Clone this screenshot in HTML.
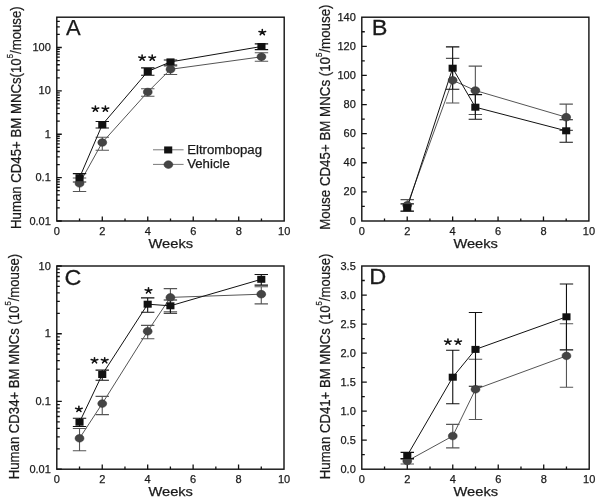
<!DOCTYPE html><html><head><meta charset="utf-8"><style>html,body{margin:0;padding:0;background:#fff;}svg{display:block;}#w{width:602px;height:503px;will-change:transform;}text{font-family:"Liberation Sans",sans-serif;stroke:#1a1a1a;stroke-width:0.25px;}</style></head><body><div id="w"><svg width="602" height="503" viewBox="0 0 602 503" font-family="Liberation Sans, sans-serif">
<rect width="602" height="503" fill="#fff"/>
<rect x="56.80" y="17.20" width="227.40" height="203.80" fill="none" stroke="#111" stroke-width="1.4"/>
<path d="M79.54 221.00v-2.6 M102.28 221.00v-4.6 M125.02 221.00v-2.6 M147.76 221.00v-4.6 M170.50 221.00v-2.6 M193.24 221.00v-4.6 M215.98 221.00v-2.6 M238.72 221.00v-4.6 M261.46 221.00v-2.6 M56.80 221.00h5.0 M56.80 207.94h3.0 M56.80 200.30h3.0 M56.80 194.88h3.0 M56.80 190.68h3.0 M56.80 187.24h3.0 M56.80 184.34h3.0 M56.80 181.83h3.0 M56.80 179.61h3.0 M56.80 177.62h5.0 M56.80 164.56h3.0 M56.80 156.92h3.0 M56.80 151.50h3.0 M56.80 147.30h3.0 M56.80 143.87h3.0 M56.80 140.96h3.0 M56.80 138.45h3.0 M56.80 136.23h3.0 M56.80 134.24h5.0 M56.80 121.18h3.0 M56.80 113.55h3.0 M56.80 108.13h3.0 M56.80 103.92h3.0 M56.80 100.49h3.0 M56.80 97.58h3.0 M56.80 95.07h3.0 M56.80 92.85h3.0 M56.80 90.86h5.0 M56.80 77.81h3.0 M56.80 70.17h3.0 M56.80 64.75h3.0 M56.80 60.54h3.0 M56.80 57.11h3.0 M56.80 54.20h3.0 M56.80 51.69h3.0 M56.80 49.47h3.0 M56.80 47.49h5.0 M56.80 34.43h3.0 M56.80 26.79h3.0 M56.80 21.37h3.0" stroke="#111" stroke-width="1.3" fill="none"/>
<text x="56.80" y="234.80" font-size="11" text-anchor="middle" fill="#1a1a1a" >0</text>
<text x="102.28" y="234.80" font-size="11" text-anchor="middle" fill="#1a1a1a" >2</text>
<text x="147.76" y="234.80" font-size="11" text-anchor="middle" fill="#1a1a1a" >4</text>
<text x="193.24" y="234.80" font-size="11" text-anchor="middle" fill="#1a1a1a" >6</text>
<text x="238.72" y="234.80" font-size="11" text-anchor="middle" fill="#1a1a1a" >8</text>
<text x="284.20" y="234.80" font-size="11" text-anchor="middle" fill="#1a1a1a" >10</text>
<text x="50.80" y="224.50" font-size="11" text-anchor="end" fill="#1a1a1a" >0.01</text>
<text x="50.80" y="181.12" font-size="11" text-anchor="end" fill="#1a1a1a" >0.1</text>
<text x="50.80" y="137.74" font-size="11" text-anchor="end" fill="#1a1a1a" >1</text>
<text x="50.80" y="94.36" font-size="11" text-anchor="end" fill="#1a1a1a" >10</text>
<text x="50.80" y="50.99" font-size="11" text-anchor="end" fill="#1a1a1a" >100</text>
<polyline points="79.54,183.40 102.28,142.50 147.76,92.00 170.50,69.30 261.46,56.80" fill="none" stroke="#555" stroke-width="1.0"/>
<path d="M79.54 178.00V191.50M72.84 178.00h13.4M72.84 191.50h13.4" stroke="#555" stroke-width="1.1" fill="none"/>
<path d="M102.28 137.30V150.20M95.58 137.30h13.4M95.58 150.20h13.4" stroke="#555" stroke-width="1.1" fill="none"/>
<path d="M147.76 88.80V96.30M141.06 88.80h13.4M141.06 96.30h13.4" stroke="#555" stroke-width="1.1" fill="none"/>
<path d="M170.50 66.00V74.50M163.80 66.00h13.4M163.80 74.50h13.4" stroke="#555" stroke-width="1.1" fill="none"/>
<path d="M261.46 52.80V61.20M254.76 52.80h13.4M254.76 61.20h13.4" stroke="#555" stroke-width="1.1" fill="none"/>
<polyline points="79.54,177.70 102.28,124.70 147.76,71.50 170.50,61.90 261.46,46.50" fill="none" stroke="#111" stroke-width="1.0"/>
<path d="M79.54 173.60V182.00M72.84 173.60h13.4M72.84 182.00h13.4" stroke="#111" stroke-width="1.1" fill="none"/>
<path d="M102.28 121.50V128.00M95.58 121.50h13.4M95.58 128.00h13.4" stroke="#111" stroke-width="1.1" fill="none"/>
<path d="M147.76 67.90V75.30M141.06 67.90h13.4M141.06 75.30h13.4" stroke="#111" stroke-width="1.1" fill="none"/>
<path d="M170.50 60.00V65.00M163.80 60.00h13.4M163.80 65.00h13.4" stroke="#111" stroke-width="1.1" fill="none"/>
<path d="M261.46 43.90V49.60M254.76 43.90h13.4M254.76 49.60h13.4" stroke="#111" stroke-width="1.1" fill="none"/>
<ellipse cx="79.54" cy="183.40" rx="4.45" ry="3.85" fill="#444" stroke="#2a2a2a" stroke-width="0.5"/>
<ellipse cx="102.28" cy="142.50" rx="4.45" ry="3.85" fill="#444" stroke="#2a2a2a" stroke-width="0.5"/>
<ellipse cx="147.76" cy="92.00" rx="4.45" ry="3.85" fill="#444" stroke="#2a2a2a" stroke-width="0.5"/>
<ellipse cx="170.50" cy="69.30" rx="4.45" ry="3.85" fill="#444" stroke="#2a2a2a" stroke-width="0.5"/>
<ellipse cx="261.46" cy="56.80" rx="4.45" ry="3.85" fill="#444" stroke="#2a2a2a" stroke-width="0.5"/>
<rect x="75.49" y="174.20" width="8.1" height="7.0" fill="#111"/>
<rect x="98.23" y="121.20" width="8.1" height="7.0" fill="#111"/>
<rect x="143.71" y="68.00" width="8.1" height="7.0" fill="#111"/>
<rect x="166.45" y="58.40" width="8.1" height="7.0" fill="#111"/>
<rect x="257.41" y="43.00" width="8.1" height="7.0" fill="#111"/>
<text x="170.80" y="248.00" font-size="13" text-anchor="middle" fill="#1a1a1a" textLength="44.5" lengthAdjust="spacingAndGlyphs">Weeks</text>
<text transform="translate(21.00,117.65) rotate(-90)" x="0" y="0" font-size="15.3" text-anchor="middle" fill="#1a1a1a" textLength="222.7" lengthAdjust="spacingAndGlyphs">Human CD45+ BM MNCs(10<tspan font-size="9" dy="-8">5</tspan><tspan dy="8">/mouse)</tspan></text>
<text transform="translate(66.00,35.10) scale(1.0,1)" font-size="22" fill="#1a1a1a">A</text>
<path d="M95.40 108.90L95.40 106.05M95.40 108.90L98.73 108.02M95.40 108.90L97.46 111.21M95.40 108.90L93.34 111.21M95.40 108.90L92.07 108.02" stroke="#111" stroke-width="1.55" stroke-linecap="round" fill="none"/>
<path d="M105.40 108.90L105.40 106.05M105.40 108.90L108.73 108.02M105.40 108.90L107.46 111.21M105.40 108.90L103.34 111.21M105.40 108.90L102.07 108.02" stroke="#111" stroke-width="1.55" stroke-linecap="round" fill="none"/>
<path d="M142.10 57.90L142.10 55.05M142.10 57.90L145.43 57.02M142.10 57.90L144.16 60.21M142.10 57.90L140.04 60.21M142.10 57.90L138.77 57.02" stroke="#111" stroke-width="1.55" stroke-linecap="round" fill="none"/>
<path d="M152.20 57.90L152.20 55.05M152.20 57.90L155.53 57.02M152.20 57.90L154.26 60.21M152.20 57.90L150.14 60.21M152.20 57.90L148.87 57.02" stroke="#111" stroke-width="1.55" stroke-linecap="round" fill="none"/>
<path d="M262.30 32.30L262.30 29.45M262.30 32.30L265.63 31.42M262.30 32.30L264.36 34.61M262.30 32.30L260.24 34.61M262.30 32.30L258.97 31.42" stroke="#111" stroke-width="1.55" stroke-linecap="round" fill="none"/>
<rect x="361.80" y="17.20" width="227.10" height="203.80" fill="none" stroke="#111" stroke-width="1.4"/>
<path d="M384.51 221.00v-2.6 M407.22 221.00v-4.6 M429.93 221.00v-2.6 M452.64 221.00v-4.6 M475.35 221.00v-2.6 M498.06 221.00v-4.6 M520.77 221.00v-2.6 M543.48 221.00v-4.6 M566.19 221.00v-2.6 M361.80 206.44h3.0 M361.80 191.89h5.0 M361.80 177.33h3.0 M361.80 162.77h5.0 M361.80 148.21h3.0 M361.80 133.66h5.0 M361.80 119.10h3.0 M361.80 104.54h5.0 M361.80 89.99h3.0 M361.80 75.43h5.0 M361.80 60.87h3.0 M361.80 46.31h5.0 M361.80 31.76h3.0" stroke="#111" stroke-width="1.3" fill="none"/>
<text x="361.80" y="234.80" font-size="11" text-anchor="middle" fill="#1a1a1a" >0</text>
<text x="407.22" y="234.80" font-size="11" text-anchor="middle" fill="#1a1a1a" >2</text>
<text x="452.64" y="234.80" font-size="11" text-anchor="middle" fill="#1a1a1a" >4</text>
<text x="498.06" y="234.80" font-size="11" text-anchor="middle" fill="#1a1a1a" >6</text>
<text x="543.48" y="234.80" font-size="11" text-anchor="middle" fill="#1a1a1a" >8</text>
<text x="588.90" y="234.80" font-size="11" text-anchor="middle" fill="#1a1a1a" >10</text>
<text x="355.80" y="224.50" font-size="11" text-anchor="end" fill="#1a1a1a" >0</text>
<text x="355.80" y="195.39" font-size="11" text-anchor="end" fill="#1a1a1a" >20</text>
<text x="355.80" y="166.27" font-size="11" text-anchor="end" fill="#1a1a1a" >40</text>
<text x="355.80" y="137.16" font-size="11" text-anchor="end" fill="#1a1a1a" >60</text>
<text x="355.80" y="108.04" font-size="11" text-anchor="end" fill="#1a1a1a" >80</text>
<text x="355.80" y="78.93" font-size="11" text-anchor="end" fill="#1a1a1a" >100</text>
<text x="355.80" y="49.81" font-size="11" text-anchor="end" fill="#1a1a1a" >120</text>
<text x="355.80" y="20.70" font-size="11" text-anchor="end" fill="#1a1a1a" >140</text>
<polyline points="407.22,205.30 452.64,80.30 475.35,90.50 566.19,117.20" fill="none" stroke="#555" stroke-width="1.0"/>
<path d="M407.22 199.60V211.00M400.52 199.60h13.4M400.52 211.00h13.4" stroke="#555" stroke-width="1.1" fill="none"/>
<path d="M452.64 58.40V103.00M445.94 58.40h13.4M445.94 103.00h13.4" stroke="#555" stroke-width="1.1" fill="none"/>
<path d="M475.35 66.10V114.50M468.65 66.10h13.4M468.65 114.50h13.4" stroke="#555" stroke-width="1.1" fill="none"/>
<path d="M566.19 104.10V130.40M559.49 104.10h13.4M559.49 130.40h13.4" stroke="#555" stroke-width="1.1" fill="none"/>
<polyline points="407.22,207.60 452.64,68.20 475.35,107.20 566.19,130.80" fill="none" stroke="#111" stroke-width="1.0"/>
<path d="M407.22 203.90V211.30M400.52 203.90h13.4M400.52 211.30h13.4" stroke="#111" stroke-width="1.1" fill="none"/>
<path d="M452.64 46.90V89.20M445.94 46.90h13.4M445.94 89.20h13.4" stroke="#111" stroke-width="1.1" fill="none"/>
<path d="M475.35 94.60V119.30M468.65 94.60h13.4M468.65 119.30h13.4" stroke="#111" stroke-width="1.1" fill="none"/>
<path d="M566.19 119.80V142.30M559.49 119.80h13.4M559.49 142.30h13.4" stroke="#111" stroke-width="1.1" fill="none"/>
<ellipse cx="407.22" cy="205.30" rx="4.45" ry="3.85" fill="#444" stroke="#2a2a2a" stroke-width="0.5"/>
<ellipse cx="452.64" cy="80.30" rx="4.45" ry="3.85" fill="#444" stroke="#2a2a2a" stroke-width="0.5"/>
<ellipse cx="475.35" cy="90.50" rx="4.45" ry="3.85" fill="#444" stroke="#2a2a2a" stroke-width="0.5"/>
<ellipse cx="566.19" cy="117.20" rx="4.45" ry="3.85" fill="#444" stroke="#2a2a2a" stroke-width="0.5"/>
<rect x="403.17" y="204.10" width="8.1" height="7.0" fill="#111"/>
<rect x="448.59" y="64.70" width="8.1" height="7.0" fill="#111"/>
<rect x="471.30" y="103.70" width="8.1" height="7.0" fill="#111"/>
<rect x="562.14" y="127.30" width="8.1" height="7.0" fill="#111"/>
<text x="475.65" y="248.00" font-size="13" text-anchor="middle" fill="#1a1a1a" textLength="44.5" lengthAdjust="spacingAndGlyphs">Weeks</text>
<text transform="translate(330.30,117.15) rotate(-90)" x="0" y="0" font-size="15.3" text-anchor="middle" fill="#1a1a1a" textLength="225.3" lengthAdjust="spacingAndGlyphs">Mouse CD45+ BM MNCs (10<tspan font-size="9" dy="-8">5</tspan><tspan dy="8">/mouse)</tspan></text>
<text transform="translate(371.80,35.20) scale(1.07,1)" font-size="22" fill="#1a1a1a">B</text>
<rect x="56.80" y="266.00" width="227.20" height="203.20" fill="none" stroke="#111" stroke-width="1.4"/>
<path d="M79.52 469.20v-2.6 M102.24 469.20v-4.6 M124.96 469.20v-2.6 M147.68 469.20v-4.6 M170.40 469.20v-2.6 M193.12 469.20v-4.6 M215.84 469.20v-2.6 M238.56 469.20v-4.6 M261.28 469.20v-2.6 M56.80 469.20h5.0 M56.80 448.81h3.0 M56.80 436.88h3.0 M56.80 428.42h3.0 M56.80 421.86h3.0 M56.80 416.49h3.0 M56.80 411.96h3.0 M56.80 408.03h3.0 M56.80 404.57h3.0 M56.80 401.47h5.0 M56.80 381.08h3.0 M56.80 369.15h3.0 M56.80 360.69h3.0 M56.80 354.12h3.0 M56.80 348.76h3.0 M56.80 344.23h3.0 M56.80 340.30h3.0 M56.80 336.83h3.0 M56.80 333.73h5.0 M56.80 313.34h3.0 M56.80 301.42h3.0 M56.80 292.95h3.0 M56.80 286.39h3.0 M56.80 281.03h3.0 M56.80 276.49h3.0 M56.80 272.56h3.0 M56.80 269.10h3.0 M56.80 266.00h5.0" stroke="#111" stroke-width="1.3" fill="none"/>
<text x="56.80" y="483.00" font-size="11" text-anchor="middle" fill="#1a1a1a" >0</text>
<text x="102.24" y="483.00" font-size="11" text-anchor="middle" fill="#1a1a1a" >2</text>
<text x="147.68" y="483.00" font-size="11" text-anchor="middle" fill="#1a1a1a" >4</text>
<text x="193.12" y="483.00" font-size="11" text-anchor="middle" fill="#1a1a1a" >6</text>
<text x="238.56" y="483.00" font-size="11" text-anchor="middle" fill="#1a1a1a" >8</text>
<text x="284.00" y="483.00" font-size="11" text-anchor="middle" fill="#1a1a1a" >10</text>
<text x="50.80" y="472.70" font-size="11" text-anchor="end" fill="#1a1a1a" >0.01</text>
<text x="50.80" y="404.97" font-size="11" text-anchor="end" fill="#1a1a1a" >0.1</text>
<text x="50.80" y="337.23" font-size="11" text-anchor="end" fill="#1a1a1a" >1</text>
<text x="50.80" y="269.50" font-size="11" text-anchor="end" fill="#1a1a1a" >10</text>
<polyline points="79.52,438.30 102.24,403.60 147.68,331.30 170.40,297.40 261.28,294.20" fill="none" stroke="#555" stroke-width="1.0"/>
<path d="M79.52 428.50V450.80M72.82 428.50h13.4M72.82 450.80h13.4" stroke="#555" stroke-width="1.1" fill="none"/>
<path d="M102.24 396.40V414.60M95.54 396.40h13.4M95.54 414.60h13.4" stroke="#555" stroke-width="1.1" fill="none"/>
<path d="M147.68 325.40V338.80M140.98 325.40h13.4M140.98 338.80h13.4" stroke="#555" stroke-width="1.1" fill="none"/>
<path d="M170.40 288.60V311.70M163.70 288.60h13.4M163.70 311.70h13.4" stroke="#555" stroke-width="1.1" fill="none"/>
<path d="M261.28 286.80V303.90M254.58 286.80h13.4M254.58 303.90h13.4" stroke="#555" stroke-width="1.1" fill="none"/>
<polyline points="79.52,422.20 102.24,374.50 147.68,304.20 170.40,305.80 261.28,279.30" fill="none" stroke="#111" stroke-width="1.0"/>
<path d="M79.52 418.30V426.50M72.82 418.30h13.4M72.82 426.50h13.4" stroke="#111" stroke-width="1.1" fill="none"/>
<path d="M102.24 370.10V380.20M95.54 370.10h13.4M95.54 380.20h13.4" stroke="#111" stroke-width="1.1" fill="none"/>
<path d="M147.68 297.90V312.20M140.98 297.90h13.4M140.98 312.20h13.4" stroke="#111" stroke-width="1.1" fill="none"/>
<path d="M170.40 300.00V313.30M163.70 300.00h13.4M163.70 313.30h13.4" stroke="#111" stroke-width="1.1" fill="none"/>
<path d="M261.28 274.50V285.10M254.58 274.50h13.4M254.58 285.10h13.4" stroke="#111" stroke-width="1.1" fill="none"/>
<ellipse cx="79.52" cy="438.30" rx="4.45" ry="3.85" fill="#444" stroke="#2a2a2a" stroke-width="0.5"/>
<ellipse cx="102.24" cy="403.60" rx="4.45" ry="3.85" fill="#444" stroke="#2a2a2a" stroke-width="0.5"/>
<ellipse cx="147.68" cy="331.30" rx="4.45" ry="3.85" fill="#444" stroke="#2a2a2a" stroke-width="0.5"/>
<ellipse cx="170.40" cy="297.40" rx="4.45" ry="3.85" fill="#444" stroke="#2a2a2a" stroke-width="0.5"/>
<ellipse cx="261.28" cy="294.20" rx="4.45" ry="3.85" fill="#444" stroke="#2a2a2a" stroke-width="0.5"/>
<rect x="75.47" y="418.70" width="8.1" height="7.0" fill="#111"/>
<rect x="98.19" y="371.00" width="8.1" height="7.0" fill="#111"/>
<rect x="143.63" y="300.70" width="8.1" height="7.0" fill="#111"/>
<rect x="166.35" y="302.30" width="8.1" height="7.0" fill="#111"/>
<rect x="257.23" y="275.80" width="8.1" height="7.0" fill="#111"/>
<text x="170.70" y="496.20" font-size="13" text-anchor="middle" fill="#1a1a1a" textLength="44.5" lengthAdjust="spacingAndGlyphs">Weeks</text>
<text transform="translate(18.80,366.50) rotate(-90)" x="0" y="0" font-size="15.3" text-anchor="middle" fill="#1a1a1a" textLength="225.4" lengthAdjust="spacingAndGlyphs">Human CD34+ BM MNCs (10<tspan font-size="9" dy="-8">5</tspan><tspan dy="8">/mouse)</tspan></text>
<text transform="translate(64.60,284.60) scale(1.06,1)" font-size="22" fill="#1a1a1a">C</text>
<path d="M78.90 409.20L78.90 406.35M78.90 409.20L82.23 408.32M78.90 409.20L80.96 411.51M78.90 409.20L76.84 411.51M78.90 409.20L75.57 408.32" stroke="#111" stroke-width="1.55" stroke-linecap="round" fill="none"/>
<path d="M94.50 360.50L94.50 357.65M94.50 360.50L97.83 359.62M94.50 360.50L96.56 362.81M94.50 360.50L92.44 362.81M94.50 360.50L91.17 359.62" stroke="#111" stroke-width="1.55" stroke-linecap="round" fill="none"/>
<path d="M104.70 360.50L104.70 357.65M104.70 360.50L108.03 359.62M104.70 360.50L106.76 362.81M104.70 360.50L102.64 362.81M104.70 360.50L101.37 359.62" stroke="#111" stroke-width="1.55" stroke-linecap="round" fill="none"/>
<path d="M148.50 290.60L148.50 287.75M148.50 290.60L151.83 289.72M148.50 290.60L150.56 292.91M148.50 290.60L146.44 292.91M148.50 290.60L145.17 289.72" stroke="#111" stroke-width="1.55" stroke-linecap="round" fill="none"/>
<rect x="361.80" y="266.00" width="227.40" height="203.20" fill="none" stroke="#111" stroke-width="1.4"/>
<path d="M384.54 469.20v-2.6 M407.28 469.20v-4.6 M430.02 469.20v-2.6 M452.76 469.20v-4.6 M475.50 469.20v-2.6 M498.24 469.20v-4.6 M520.98 469.20v-2.6 M543.72 469.20v-4.6 M566.46 469.20v-2.6 M361.80 454.69h3.0 M361.80 440.17h5.0 M361.80 425.66h3.0 M361.80 411.14h5.0 M361.80 396.63h3.0 M361.80 382.11h5.0 M361.80 367.60h3.0 M361.80 353.09h5.0 M361.80 338.57h3.0 M361.80 324.06h5.0 M361.80 309.54h3.0 M361.80 295.03h5.0 M361.80 280.51h3.0" stroke="#111" stroke-width="1.3" fill="none"/>
<text x="361.80" y="483.00" font-size="11" text-anchor="middle" fill="#1a1a1a" >0</text>
<text x="407.28" y="483.00" font-size="11" text-anchor="middle" fill="#1a1a1a" >2</text>
<text x="452.76" y="483.00" font-size="11" text-anchor="middle" fill="#1a1a1a" >4</text>
<text x="498.24" y="483.00" font-size="11" text-anchor="middle" fill="#1a1a1a" >6</text>
<text x="543.72" y="483.00" font-size="11" text-anchor="middle" fill="#1a1a1a" >8</text>
<text x="589.20" y="483.00" font-size="11" text-anchor="middle" fill="#1a1a1a" >10</text>
<text x="355.80" y="472.70" font-size="11" text-anchor="end" fill="#1a1a1a" >0.0</text>
<text x="355.80" y="443.67" font-size="11" text-anchor="end" fill="#1a1a1a" >0.5</text>
<text x="355.80" y="414.64" font-size="11" text-anchor="end" fill="#1a1a1a" >1.0</text>
<text x="355.80" y="385.61" font-size="11" text-anchor="end" fill="#1a1a1a" >1.5</text>
<text x="355.80" y="356.59" font-size="11" text-anchor="end" fill="#1a1a1a" >2.0</text>
<text x="355.80" y="327.56" font-size="11" text-anchor="end" fill="#1a1a1a" >2.5</text>
<text x="355.80" y="298.53" font-size="11" text-anchor="end" fill="#1a1a1a" >3.0</text>
<text x="355.80" y="269.50" font-size="11" text-anchor="end" fill="#1a1a1a" >3.5</text>
<polyline points="407.28,461.00 452.76,436.00 475.50,389.30 566.46,355.90" fill="none" stroke="#555" stroke-width="1.0"/>
<path d="M407.28 458.90V464.00M400.58 458.90h13.4M400.58 464.00h13.4" stroke="#555" stroke-width="1.1" fill="none"/>
<path d="M452.76 424.40V447.90M446.06 424.40h13.4M446.06 447.90h13.4" stroke="#555" stroke-width="1.1" fill="none"/>
<path d="M475.50 359.20V419.50M468.80 359.20h13.4M468.80 419.50h13.4" stroke="#555" stroke-width="1.1" fill="none"/>
<path d="M566.46 323.70V387.20M559.76 323.70h13.4M559.76 387.20h13.4" stroke="#555" stroke-width="1.1" fill="none"/>
<polyline points="407.28,455.50 452.76,377.20 475.50,349.40 566.46,316.80" fill="none" stroke="#111" stroke-width="1.0"/>
<path d="M407.28 452.40V458.60M400.58 452.40h13.4M400.58 458.60h13.4" stroke="#111" stroke-width="1.1" fill="none"/>
<path d="M452.76 350.30V403.80M446.06 350.30h13.4M446.06 403.80h13.4" stroke="#111" stroke-width="1.1" fill="none"/>
<path d="M475.50 312.50V386.30M468.80 312.50h13.4M468.80 386.30h13.4" stroke="#111" stroke-width="1.1" fill="none"/>
<path d="M566.46 284.00V349.90M559.76 284.00h13.4M559.76 349.90h13.4" stroke="#111" stroke-width="1.1" fill="none"/>
<ellipse cx="407.28" cy="461.00" rx="4.45" ry="3.85" fill="#444" stroke="#2a2a2a" stroke-width="0.5"/>
<ellipse cx="452.76" cy="436.00" rx="4.45" ry="3.85" fill="#444" stroke="#2a2a2a" stroke-width="0.5"/>
<ellipse cx="475.50" cy="389.30" rx="4.45" ry="3.85" fill="#444" stroke="#2a2a2a" stroke-width="0.5"/>
<ellipse cx="566.46" cy="355.90" rx="4.45" ry="3.85" fill="#444" stroke="#2a2a2a" stroke-width="0.5"/>
<rect x="403.23" y="452.00" width="8.1" height="7.0" fill="#111"/>
<rect x="448.71" y="373.70" width="8.1" height="7.0" fill="#111"/>
<rect x="471.45" y="345.90" width="8.1" height="7.0" fill="#111"/>
<rect x="562.41" y="313.30" width="8.1" height="7.0" fill="#111"/>
<text x="475.80" y="496.20" font-size="13" text-anchor="middle" fill="#1a1a1a" textLength="44.5" lengthAdjust="spacingAndGlyphs">Weeks</text>
<text transform="translate(330.30,366.40) rotate(-90)" x="0" y="0" font-size="15.3" text-anchor="middle" fill="#1a1a1a" textLength="225.6" lengthAdjust="spacingAndGlyphs">Human CD41+ BM MNCs (10<tspan font-size="9" dy="-8">5</tspan><tspan dy="8">/mouse)</tspan></text>
<text transform="translate(369.30,284.20) scale(1.07,1)" font-size="22" fill="#1a1a1a">D</text>
<path d="M447.90 341.90L447.90 339.05M447.90 341.90L451.23 341.02M447.90 341.90L449.96 344.21M447.90 341.90L445.84 344.21M447.90 341.90L444.57 341.02" stroke="#111" stroke-width="1.55" stroke-linecap="round" fill="none"/>
<path d="M458.10 341.90L458.10 339.05M458.10 341.90L461.43 341.02M458.10 341.90L460.16 344.21M458.10 341.90L456.04 344.21M458.10 341.90L454.77 341.02" stroke="#111" stroke-width="1.55" stroke-linecap="round" fill="none"/>
<path d="M153.0 149.8H183.6M153.0 164.4H183.6" stroke="#6a6a6a" stroke-width="0.9"/>
<rect x="164.15" y="146.45" width="8.1" height="7.0" fill="#111"/>
<ellipse cx="168.40" cy="164.60" rx="4.45" ry="3.85" fill="#444" stroke="#2a2a2a" stroke-width="0.5"/>
<text x="187.20" y="153.60" font-size="12" text-anchor="start" fill="#1a1a1a" textLength="74.8" lengthAdjust="spacingAndGlyphs">Eltrombopag</text>
<text x="187.20" y="168.20" font-size="12" text-anchor="start" fill="#1a1a1a" textLength="42.6" lengthAdjust="spacingAndGlyphs">Vehicle</text>
</svg></div></body></html>
